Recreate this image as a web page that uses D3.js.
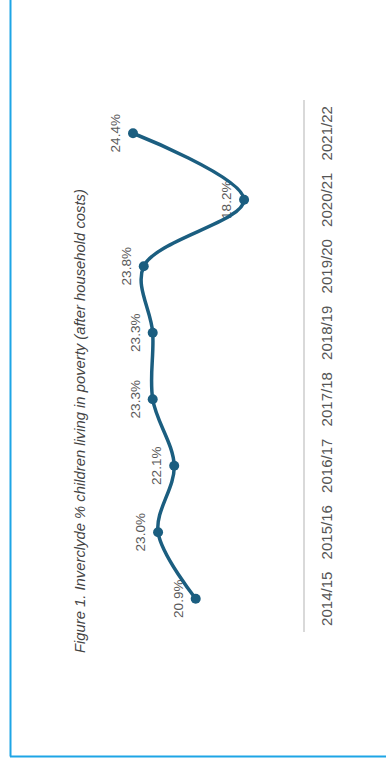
<!DOCTYPE html>
<html>
<head>
<meta charset="utf-8">
<script src="https://cdn.jsdelivr.net/npm/d3@7"></script>
<style>
  body { margin: 0; background: #fff; }
  text { font-family: "Liberation Sans", Arial, sans-serif; }
</style>
</head>
<body>
<script>
const years = ["2014/15", "2015/16", "2016/17", "2017/18", "2018/19", "2019/20", "2020/21", "2021/22"];
const poverty = [20.9, 23.0, 22.1, 23.3, 23.3, 23.8, 18.2, 24.4];
const title = "Figure 1. Inverclyde % children living in poverty (after household costs)";

const W = 386, H = 767;

let svg = d3.select("body").append("svg")
  .attr("width", W)
  .attr("height", H);

// frame (left + bottom edges visible)
svg.append("line").attr("x1", 10.5).attr("x2", 10.5).attr("y1", 0).attr("y2", 756.5)
  .attr("stroke", "#1ea5e6").attr("stroke-width", 2);
svg.append("line").attr("x1", 10).attr("x2", W).attr("y1", 756.5).attr("y2", 756.5)
  .attr("stroke", "#1ea5e6").attr("stroke-width", 2);

// the chart is drawn upright, then turned a quarter to the left
let g = svg.append("g")
  .attr("transform", `translate(0,${H}) rotate(-90)`);

let x = d3.scaleBand()
  .domain(years)
  .range([135, 667]);

let y = d3.scaleLinear()
  .domain([14.8, 24.4])
  .range([305, 133]);

// title
g.append("text")
  .attr("x", 114)
  .attr("y", 85)
  .style("font-size", "14.8px")
  .style("font-style", "italic")
  .style("fill", "#444")
  .text(title);

// baseline
g.append("line")
  .attr("x1", 135).attr("x2", 667)
  .attr("y1", 304).attr("y2", 304)
  .attr("stroke", "#ccc")
  .attr("stroke-width", 1.5);

// category labels
g.selectAll(".tick-label")
  .data(years)
  .enter().append("text")
  .attr("class", "tick-label")
  .attr("x", d => x(d) + x.bandwidth() / 2)
  .attr("y", 332)
  .attr("text-anchor", "middle")
  .style("font-size", "15px")
  .style("fill", "#555")
  .text(d => d);

const pts = years.map((d, i) => [x(d) + x.bandwidth() / 2, y(poverty[i])]);

// value labels
g.selectAll(".val")
  .data(poverty)
  .enter().append("text")
  .attr("class", "val")
  .attr("x", (d, i) => pts[i][0])
  .attr("y", d => y(d) - 13)
  .attr("text-anchor", "middle")
  .style("font-size", "13.5px")
  .style("fill", "#5a5a5a")
  .text(d => d.toFixed(1) + "%");

// line
g.append("path")
  .datum(pts)
  .attr("d", d3.line().curve(d3.curveCatmullRom))
  .attr("fill", "none")
  .attr("stroke", "#1b5e80")
  .attr("stroke-width", 3.5);

g.selectAll("circle")
  .data(pts)
  .enter().append("circle")
  .attr("cx", d => d[0])
  .attr("cy", d => d[1])
  .attr("r", 5)
  .style("fill", "#1b5e80");
</script>
</body>
</html>
